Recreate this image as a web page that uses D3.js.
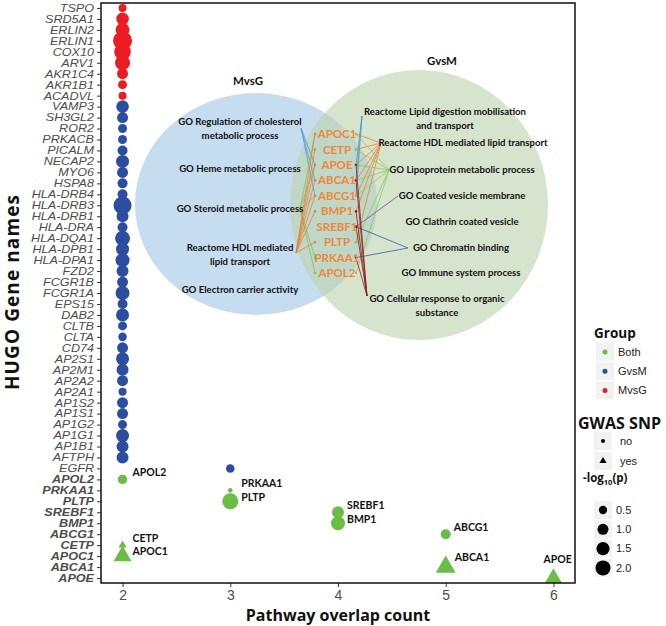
<!DOCTYPE html>
<html><head><meta charset="utf-8">
<script src="https://cdn.jsdelivr.net/npm/d3@7"></script>
<style>body{margin:0;background:#fff}svg{display:block}</style>
</head><body><svg id="c" width="666" height="626"></svg>
<script>
// ---------------- DATA ----------------
const genes = ["TSPO","SRD5A1","ERLIN2","ERLIN1","COX10","ARV1","AKR1C4","AKR1B1","ACADVL",
  "VAMP3","SH3GL2","ROR2","PRKACB","PICALM","NECAP2","MYO6","HSPA8","HLA-DRB4","HLA-DRB3",
  "HLA-DRB1","HLA-DRA","HLA-DQA1","HLA-DPB1","HLA-DPA1","FZD2","FCGR1B","FCGR1A","EPS15","DAB2",
  "CLTB","CLTA","CD74","AP2S1","AP2M1","AP2A2","AP2A1","AP1S2","AP1S1","AP1G2","AP1G1","AP1B1",
  "AFTPH","EGFR","APOL2","PRKAA1","PLTP","SREBF1","BMP1","ABCG1","CETP","APOC1","ABCA1","APOE"];
const overlapCount = [2,2,2,2,2,2,2,2,2,
  2,2,2,2,2,2,2,2,2,2,
  2,2,2,2,2,2,2,2,2,2,
  2,2,2,2,2,2,2,2,2,2,2,2,
  2,3,2,3,3,4,4,5,2,2,5,6];
const groupOf = ["MvsG","MvsG","MvsG","MvsG","MvsG","MvsG","MvsG","MvsG","MvsG",
  "GvsM","GvsM","GvsM","GvsM","GvsM","GvsM","GvsM","GvsM","GvsM","GvsM",
  "GvsM","GvsM","GvsM","GvsM","GvsM","GvsM","GvsM","GvsM","GvsM","GvsM",
  "GvsM","GvsM","GvsM","GvsM","GvsM","GvsM","GvsM","GvsM","GvsM","GvsM","GvsM","GvsM",
  "GvsM","GvsM","Both","Both","Both","Both","Both","Both","Both","Both","Both","Both"];
const negLog10P = [0.46,1.37,1.72,3.3,2.5,2.0,1.0,0.62,0.46,
  1.37,1.0,0.62,0.62,0.8,1.47,1.0,0.8,0.8,2.95,
  1.23,0.8,2.0,1.47,1.72,1.23,1.0,1.72,0.8,1.47,
  0.62,0.55,1.0,1.47,1.23,1.0,0.46,1.0,1.0,0.62,1.47,1.23,
  1.23,0.55,0.69,0.05,2.3,1.23,1.72,0.8,0.19,1.56,1.95,1.37];
const gwasSNP = genes.map(g => ["CETP","APOC1","ABCA1","APOE"].includes(g) ? "yes" : "no");
const boldGenes = ["APOL2","PRKAA1","PLTP","SREBF1","BMP1","ABCG1","CETP","APOC1","ABCA1","APOE"];
const labelledGenes = ["APOL2","PRKAA1","PLTP","SREBF1","BMP1","ABCG1","CETP","APOC1","ABCA1","APOE"];
const xTicks = [2,3,4,5,6];
const groupLevels = ["Both","GvsM","MvsG"];
const gwasLevels = ["no","yes"];
const sizeBreaks = [0.5,1.0,1.5,2.0];

// Venn inset content
const vennSetNames = ["MvsG","GvsM"];
const sharedGenes = ["APOC1","CETP","APOE","ABCA1","ABCG1","BMP1","SREBF1","PLTP","PRKAA1","APOL2"];
const leftPathways = [["GO Regulation of cholesterol","metabolic process"],["GO Heme metabolic process"],
  ["GO Steroid metabolic process"],["Reactome HDL mediated","lipid transport"],["GO Electron carrier activity"]];
const rightPathways = [["Reactome Lipid digestion mobilisation","and transport"],["Reactome HDL mediated lipid transport"],
  ["GO Lipoprotein metabolic process"],["GO Coated vesicle membrane"],["GO Clathrin coated vesicle"],
  ["GO Chromatin binding"],["GO Immune system process"],["GO Cellular response to organic","substance"]];
// links: [side, pathway index, gene]
const links = [
  ["L",0,"APOE"],["L",0,"ABCG1"],["L",0,"ABCA1"],
  ["L",2,"APOC1"],["L",2,"APOE"],["L",2,"ABCG1"],["L",2,"APOL2"],["L",2,"PRKAA1"],
  ["L",3,"APOC1"],["L",3,"CETP"],["L",3,"APOE"],["L",3,"ABCA1"],["L",3,"ABCG1"],["L",3,"BMP1"],["L",3,"PLTP"],
  ["R",0,"APOE"],["R",0,"ABCA1"],["R",0,"ABCG1"],
  ["R",1,"APOC1"],["R",1,"CETP"],["R",1,"APOE"],["R",1,"ABCA1"],["R",1,"ABCG1"],["R",1,"BMP1"],["R",1,"PLTP"],
  ["R",2,"APOC1"],["R",2,"CETP"],["R",2,"APOE"],["R",2,"ABCA1"],["R",2,"ABCG1"],["R",2,"PLTP"],["R",2,"APOL2"],
  ["R",3,"SREBF1"],
  ["R",5,"SREBF1"],["R",5,"PRKAA1"],
  ["R",7,"ABCA1"],["R",7,"BMP1"],["R",7,"SREBF1"],["R",7,"PRKAA1"],["R",7,"APOE"]
];

// ---------------- LAYOUT / STYLE ----------------
const P = {left:101, right:575, top:3, bottom:583};
const colGroup = ["#6abd45","#2d4da0","#ec1c24"];
const vennLayout = {
  sets:[{cx:256,cy:204,rx:121,ry:111,fill:"#c6dcef",op:1,lx:248,ly:81},
        {cx:419,cy:205,rx:129,ry:135,fill:"#bcd2ac",op:0.6,lx:442,ly:61}],
  leftY:[122,169,209,248,290], leftX:240,
  leftAnchor:[[301,128],null,[300,209],[296,253],null],
  rightY:[112,143,170,196,222,248,273,299], rightX:[445,463,462,462,462,461,461,437],
  rightAnchor:[[362,116],[381,143],[389,170],[398,196],null,[408,248],null,[367,296]],
  geneX:337, geneY0:134, geneStep:15.45, dotL:315, dotR:356,
  lineColL:["#4e9bd6",null,"#7cc35a","#e8823a",null],
  lineColR:["#4e9bd6","#e8823a","#8cc866","#7b4a9b",null,"#3d5cb2",null,"#8b1c1c"]
};
const labelOffset = {APOL2:[10,-7],PRKAA1:[11,-7],PLTP:[11,-4],SREBF1:[9,-7],BMP1:[9,-4],
  ABCG1:[8,-7],CETP:[10,-7],APOC1:[10,-5],ABCA1:[9,-10],APOE:[-10,-19]};

// ---------------- SCALES ----------------
const svg = d3.select("#c");
const x = d3.scaleLinear().domain([1.8,6.2]).range([P.left,P.right]);
const y = d3.scalePoint().domain(genes).range([P.top,P.bottom]).padding(0.45);
const color = d3.scaleOrdinal().domain(groupLevels).range(colGroup);
const rad = d3.scaleRadial().domain([0,2]).range([2,7.5]);
const shape = d3.scaleOrdinal().domain(gwasLevels).range([d3.symbolCircle,d3.symbolTriangle]);

const data = genes.map((g,i)=>({gene:g,x:overlapCount[i],group:groupOf[i],p:negLog10P[i],gwas:gwasSNP[i]}));

// ---------------- VENN INSET ----------------
const V = vennLayout;
const venn = svg.append("g");
venn.selectAll("ellipse").data(V.sets).join("ellipse")
  .attr("cx",d=>d.cx).attr("cy",d=>d.cy).attr("rx",d=>d.rx).attr("ry",d=>d.ry)
  .attr("fill",d=>d.fill).attr("fill-opacity",d=>d.op);
venn.selectAll("text.setname").data(V.sets).join("text").attr("class","setname")
  .attr("x",d=>d.lx).attr("y",d=>d.ly).attr("dy","0.35em").attr("text-anchor","middle")
  .attr("font-family","Lato, sans-serif").attr("font-weight","bold").attr("font-size","11.5px")
  .attr("fill","#111").text((d,i)=>vennSetNames[i]);

const geneY = g => V.geneY0 + sharedGenes.indexOf(g)*V.geneStep;
const linkG = venn.append("g").attr("fill","none").attr("stroke-width",0.9);
links.forEach(([side,pi,g])=>{
  const a = side==="L" ? V.leftAnchor[pi] : V.rightAnchor[pi];
  const col = side==="L" ? V.lineColL[pi] : V.lineColR[pi];
  const gx = side==="L" ? V.dotL : V.dotR;
  linkG.append("line").attr("x1",a[0]).attr("y1",a[1]).attr("x2",gx).attr("y2",geneY(g))
    .attr("stroke",col).attr("stroke-opacity",0.9);
  venn.append("circle").attr("cx",gx).attr("cy",geneY(g)).attr("r",1.2).attr("fill",col);
});
venn.selectAll("text.gene").data(sharedGenes).join("text").attr("class","gene")
  .attr("x",V.geneX).attr("y",d=>geneY(d)).attr("dy","0.36em").attr("text-anchor","middle")
  .attr("font-family","Lato, sans-serif").attr("font-weight","bold").attr("font-size","11.5px")
  .attr("fill","#ef8838").text(d=>d);
function pathText(lines, xx, yy){
  const t = venn.append("text").attr("text-anchor","middle")
    .attr("font-family","Lato, sans-serif").attr("font-weight","bold").attr("font-size","9.6px").attr("fill","#111");
  lines.forEach((s,k)=>t.append("tspan").attr("x",xx).attr("y",yy+k*14).attr("dy","0.35em").text(s));
}
leftPathways.forEach((l,i)=>pathText(l,V.leftX,V.leftY[i]));
rightPathways.forEach((l,i)=>pathText(l,V.rightX[i],V.rightY[i]));

// ---------------- POINTS ----------------
svg.append("g").selectAll("path").data(data).join("path")
  .attr("transform",d=>`translate(${x(d.x)},${y(d.gene)})`)
  .attr("d",d=>d3.symbol().type(shape(d.gwas)).size(Math.PI*rad(d.p)**2)())
  .attr("fill",d=>color(d.group));

svg.append("g").selectAll("text").data(data.filter(d=>labelledGenes.includes(d.gene))).join("text")
  .attr("x",d=>x(d.x)+labelOffset[d.gene][0]).attr("y",d=>y(d.gene)+labelOffset[d.gene][1])
  .attr("dy","0.36em").attr("font-family","Lato, sans-serif").attr("font-weight","bold")
  .attr("font-size","10.5px").attr("fill","#111").text(d=>d.gene);

// ---------------- AXES ----------------
const ax = svg.append("g").attr("transform",`translate(${P.left},0)`)
  .call(d3.axisLeft(y).tickSize(4).tickPadding(3));
ax.select(".domain").remove();
ax.selectAll(".tick line").attr("stroke","#333");
ax.selectAll(".tick text").attr("x",0).attr("transform","translate(-7,0) scale(1.2,1)")
  .attr("font-family","'Liberation Sans', Arial, sans-serif")
  .attr("font-style","italic").attr("font-size","10.5px").attr("fill","#4d4d4d")
  .attr("font-weight",d=>boldGenes.includes(d)?"bold":"normal");

const bx = svg.append("g").attr("transform",`translate(0,${P.bottom})`)
  .call(d3.axisBottom(x).tickValues(xTicks).tickFormat(d3.format("d")).tickSize(4).tickPadding(3));
bx.select(".domain").remove();
bx.selectAll(".tick line").attr("stroke","#333");
bx.selectAll(".tick text").attr("font-family","'Liberation Sans', Arial, sans-serif")
  .attr("font-size","14px").attr("fill","#4d4d4d");

svg.append("rect").attr("x",P.left).attr("y",P.top).attr("width",P.right-P.left).attr("height",P.bottom-P.top)
  .attr("fill","none").attr("stroke","#111").attr("stroke-width",1.5);

svg.append("text").attr("x",(P.left+P.right)/2).attr("y",621).attr("text-anchor","middle")
  .attr("font-family","'Open Sans', sans-serif").attr("font-weight","bold").attr("font-size","16px")
  .attr("fill","#111").text("Pathway overlap count");
svg.append("text").attr("transform","translate(19,292) rotate(-90)").attr("text-anchor","middle")
  .attr("font-family","'Open Sans', sans-serif").attr("font-weight","bold").attr("font-size","19px")
  .attr("letter-spacing","1.1px").attr("fill","#111").text("HUGO Gene names");

// ---------------- LEGENDS ----------------
const lg = svg.append("g");
const lf = "'Liberation Sans', Arial, sans-serif";
function title(txt,xx,yy,fs){ return lg.append("text").attr("x",xx).attr("y",yy).attr("font-family","'Open Sans', sans-serif")
  .attr("font-weight","bold").attr("font-size",fs).attr("fill","#111").text(txt); }
function keyBox(cx,cy){ lg.append("rect").attr("x",cx-9).attr("y",cy-9).attr("width",18).attr("height",18).attr("fill","#f2f2f2"); }
function keyLab(txt,xx,cy){ lg.append("text").attr("x",xx).attr("y",cy).attr("dy","0.35em").attr("font-family",lf)
  .attr("font-size","11px").attr("fill","#222").text(txt); }

title("Group",594,338,"13.5px");
groupLevels.forEach((g,i)=>{ const cy=352+i*19.2; keyBox(605,cy);
  lg.append("circle").attr("cx",605).attr("cy",cy).attr("r",2.5).attr("fill",color(g)); keyLab(g,618,cy); });

title("GWAS SNP",578,429,"16px");
gwasLevels.forEach((g,i)=>{ const cy=441+i*20; keyBox(603,cy);
  lg.append("path").attr("transform",`translate(603,${cy})`).attr("d",d3.symbol().type(shape(g)).size(g==="yes"?22:13)())
    .attr("fill","#000"); keyLab(g,620,cy); });

const tt = title("",583,482,"11.5px");
tt.append("tspan").text("-log");
tt.append("tspan").attr("font-size","7.5px").attr("dy","3").text("10");
tt.append("tspan").attr("dy","-3").text("(p)");
sizeBreaks.forEach((s,i)=>{ const cy=510+i*19.3; keyBox(603,cy);
  lg.append("circle").attr("cx",603).attr("cy",cy).attr("r",rad(s)).attr("fill","#000");
  keyLab(d3.format(".1f")(s),616,cy); });
</script></body></html>
